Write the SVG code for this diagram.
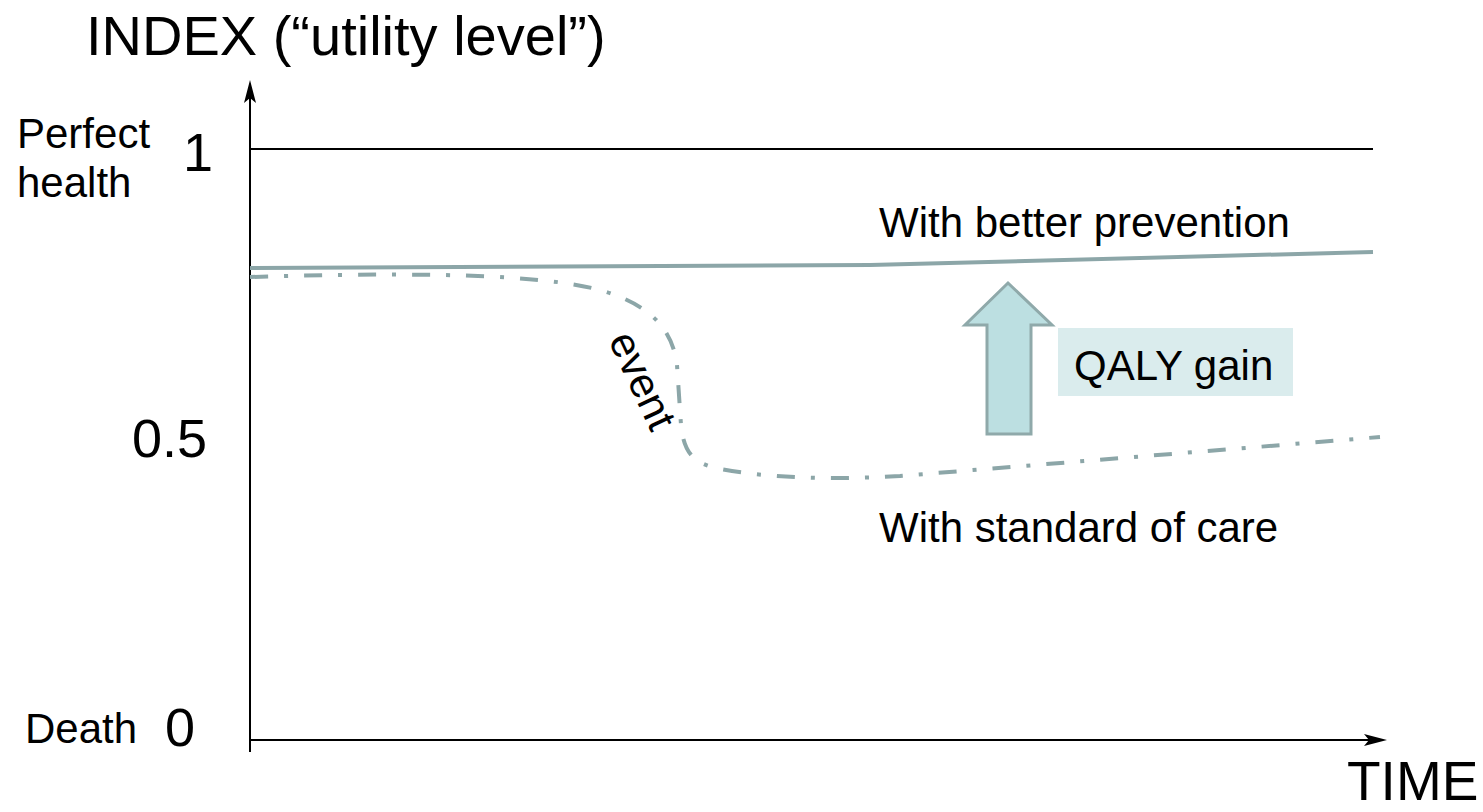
<svg xmlns="http://www.w3.org/2000/svg" width="1483" height="812" viewBox="0 0 1483 812">
<style>
text{font-family:"Liberation Sans",Arial,sans-serif;fill:#000}
.lbl{font-size:42px}
.num{font-size:54px}
.axis{stroke:#000;stroke-width:2;fill:none}
.curve{stroke:#8ca6a8;stroke-width:4;fill:none}
</style>
<rect width="1483" height="812" fill="#fff"/>
<g id="title"><text x="86" y="55" style="font-size:56px">INDEX (“utility level”)</text></g>
<g id="axes">
<line class="axis" x1="250" y1="752" x2="250" y2="96"/>
<polygon points="250,80 256,103 250,98 244,103" fill="#000"/>
<line class="axis" x1="250" y1="740" x2="1372" y2="740"/>
<polygon points="1387,740 1364,734 1369,740 1364,746" fill="#000"/>
<line class="axis" x1="250" y1="149" x2="1373" y2="149"/>
</g>
<g id="labels">
<text class="lbl" x="17" y="148">Perfect</text>
<text class="lbl" x="17" y="197">health</text>
<text class="num" x="183" y="171">1</text>
<text class="num" x="132" y="457">0.5</text>
<text class="lbl" x="25" y="743">Death</text>
<text class="num" x="165" y="746">0</text>
<text x="1347" y="800" style="font-size:55px">TIME</text>
</g>
<g id="connectors">
<path id="prevention" class="curve" d="M250,268 L870,265 C950,264 1150,259 1373,252"/>
<path id="standard" class="curve" stroke-dasharray="18 16 4 16" d="M250,277 C420,272 540,274 600,290 C645,303 672,325 677,365 L681,425 C684,452 692,463 720,469 C780,480 850,479 900,476 L1380,437"/>
</g>
<g id="prevention-label"><text class="lbl" x="879" y="237">With better prevention</text></g>
<g id="standard-label"><text class="lbl" x="879" y="542">With standard of care</text></g>
<g id="event-label"><text class="lbl" transform="translate(608,340) rotate(65)">event</text></g>
<g id="qaly-arrow"><polygon points="1008,283 1052,325 1031,325 1031,434 987,434 987,325 965,325" fill="#bcdfe1" stroke="#8fa9aa" stroke-width="3"/></g>
<g id="qaly-gain"><rect x="1058" y="328" width="235" height="68" fill="#daeced"/><text class="lbl" x="1074" y="380">QALY gain</text></g>
</svg>
